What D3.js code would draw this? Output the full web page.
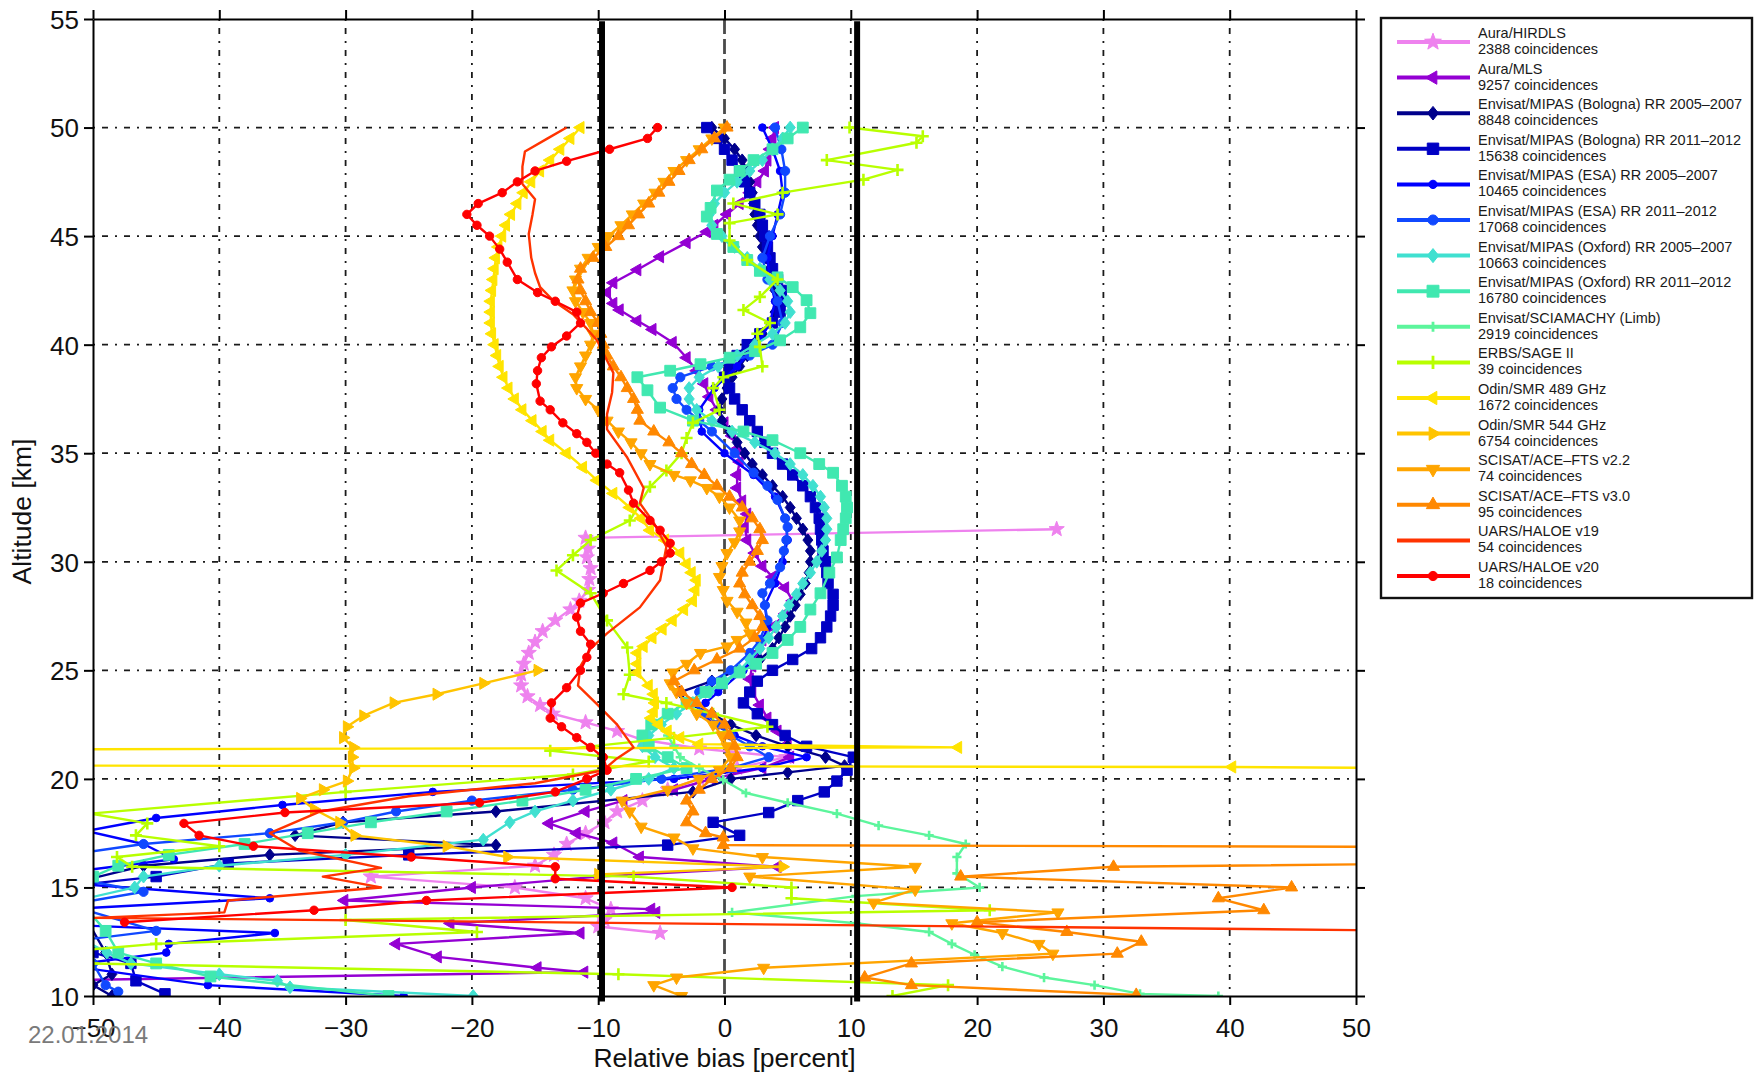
<!DOCTYPE html>
<html>
<head>
<meta charset="utf-8">
<script src="https://cdn.jsdelivr.net/npm/d3@7"></script>
<style>
  body { margin: 0; background: #fff; }
  svg { display: block; font-family: "Liberation Sans", Arial, Helvetica, sans-serif; }
</style>
</head>
<body>
<svg id="chart" width="1760" height="1073"></svg>
<script>
// Water vapour relative bias profiles: each point is [altitude km, relative bias %]
const hirdls = [[31.5,26.3],[31.1,-11.0],[30.6,-10.8],[30.2,-10.9],[29.7,-10.6],[29.2,-10.7],[28.7,-10.8],[28.2,-11.5],[27.8,-12.2],[27.3,-13.4],[26.8,-14.4],[26.3,-15.0],[25.8,-15.5],[25.3,-15.9],[24.8,-16.1],[24.3,-16.1],[23.8,-15.6],[23.4,-14.6],[23.0,-13.6],[22.6,-11.0],[22.2,-8.5],[21.8,-6.5],[21.4,-2.0],[21.0,4.9],[20.5,1.0],[20.0,-2.0],[19.5,-4.5],[19.0,-6.5],[18.5,-8.5],[18.0,-9.5],[17.5,-11.0],[17.0,-12.5],[16.5,-13.5],[16.0,-15.0],[15.5,-28.0],[15.0,-16.6],[14.5,-11.0],[14.0,-9.0],[13.5,-9.5],[13.2,-10.0],[12.9,-5.1]];

const mls = [[50,4.0],[49.5,3.8],[49,3.6],[48.5,3.4],[48,3.2],[47.5,2.6],[47,2.0],[46.5,1.2],[46,0.2],[45.5,-0.8],[45.2,-1.4],[44.7,-3.0],[44.05,-5.1],[43.45,-6.9],[42.85,-8.8],[42.4,-9.3],[41.9,-8.8],[41.6,-8.3],[41.1,-6.9],[40.7,-5.7],[40.1,-4.1],[39.4,-3.0],[38.8,-2.2],[38.2,-1.6],[37.6,-1.2],[37.0,-0.6],[36.4,0.0],[35.8,0.6],[35.2,1.0],[34.6,1.2],[34.0,1.0],[33.4,1.0],[32.8,1.4],[32.2,1.8],[31.6,1.6],[31.0,1.8],[30.4,2.4],[29.8,3.0],[29.3,3.8],[28.8,4.8],[28.2,5.4],[27.6,4.8],[27.0,3.8],[26.4,3.0],[25.8,2.6],[25.2,2.2],[24.6,2.0],[24.0,2.2],[23.4,2.8],[22.8,3.4],[22.2,4.2],[21.6,5.0],[21.0,5.2],[20.5,3.0],[20.0,-1.0],[19.5,-4.0],[19.0,-8.0],[18.5,-11.0],[17.95,-13.9],[17.5,-11.7],[17.05,-8.8],[16.4,-6.7],[15.95,4.2],[15.5,-10.0],[15.0,-20.0],[14.4,-30.1],[14.0,-5.8],[13.85,-5.4],[13.35,-21.7],[12.9,-11.4],[12.4,-26.0],[11.8,-22.7],[11.3,-14.8],[11.1,-11.1],[10.7,-55]];

const mipasBologna0507 = [[50,-1.0],[49.5,0.0],[49,0.8],[48.5,1.4],[48,1.8],[47.5,2.0],[47,2.2],[46.5,2.3],[46,2.4],[45.5,2.6],[45,2.8],[44.5,3.0],[44,3.3],[43.5,3.6],[43,3.8],[42.5,4.0],[42,4.1],[41.5,4.0],[41,3.6],[40.5,3.0],[40,2.4],[39.5,1.8],[39,1.2],[38.5,0.6],[38,0.2],[37.5,-0.2],[37,-0.4],[36.5,-0.2],[36,0.4],[35.5,1.0],[35,1.6],[34.5,2.2],[34,3.0],[33.5,3.8],[33,4.6],[32.5,5.2],[32,5.7],[31.5,6.2],[31,6.6],[30.5,6.8],[30,6.8],[29.5,6.7],[29,6.4],[28.5,6.0],[28,5.6],[27.5,5.2],[27,4.8],[26.5,4.3],[26,3.8],[25.5,2.8],[25,1.0],[24.5,-1.0],[24,-3.5],[23.5,-3.0],[23,-1.0],[22.5,0.5],[22,2.5],[21.5,5.0],[21,8.0],[20.6,9.5],[20.3,5.0],[20,0.5],[19.4,-2.5],[18.5,-18.1],[18.0,-30.2],[17.4,-34.0],[16.95,-18.1],[16.5,-36.0],[16.0,-46.0],[15.0,-53.0],[14.0,-51.0],[12.0,-49.0],[11.0,-48.5],[10.5,-50.0],[10.0,-48.5]];

const mipasBologna1112 = [[50,-1.4],[49.5,-0.6],[49,0.0],[48.5,0.6],[48,1.2],[47.5,1.6],[47,2.0],[46.5,2.4],[46,2.8],[45.5,3.0],[45,3.2],[44.5,3.4],[44,3.6],[43.5,3.8],[43,4.2],[42.5,4.5],[42,4.6],[41.5,4.4],[41,3.8],[40.5,2.8],[40,1.8],[39.5,1.0],[39,0.4],[38.5,0.0],[38,0.4],[37.5,0.8],[37,1.4],[36.5,2.0],[36,2.6],[35.5,3.2],[35,3.8],[34.5,4.6],[34,5.4],[33.5,6.2],[33,6.8],[32.5,7.2],[32,7.5],[31.5,7.6],[31,7.7],[30.5,7.8],[30,8.0],[29.5,8.1],[29,8.2],[28.5,8.6],[28,8.6],[27.5,8.4],[27,8.1],[26.5,7.6],[26,6.9],[25.5,5.4],[25,3.8],[24.5,2.6],[24,2.0],[23.5,1.5],[23,2.6],[22.5,3.8],[22,4.8],[21.5,6.5],[21,10.2],[20.4,9.7],[19.9,8.9],[19.4,7.9],[19.0,5.8],[18.45,3.5],[18.0,-0.9],[17.4,1.2],[16.95,-4.5],[16.5,-25.0],[16.1,-39.3],[15.5,-45.0],[15.0,-53.0],[13.5,-52.0],[12.0,-50.0],[11.5,-47.0],[10.7,-46.6],[10.1,-44.3]];

const mipasEsa0507 = [[50,3.0],[49,3.8],[48,4.4],[47,4.6],[46,4.2],[45,3.8],[44,3.4],[43,3.6],[42,4.0],[41,3.6],[40,2.6],[39,1.0],[38,-0.8],[37,-2.0],[36,-1.8],[35,0.0],[34,2.3],[33,4.0],[32,4.8],[31,5.0],[30,4.6],[29,4.0],[28,3.2],[27,3.4],[26,2.8],[25,1.5],[24,-0.5],[23.5,-1.5],[23,-1.8],[22.5,-0.8],[22,0.8],[21.5,3.0],[21,6.5],[20.5,3.0],[20.0,-4.0],[19.4,-23.1],[18.8,-35.0],[18.2,-45.0],[17.6,-50.5],[17.0,-46.0],[16.3,-43.6],[15.8,-50.5],[15.2,-52.0],[14.5,-36.0],[14.0,-52.0],[13.3,-53.0],[12.9,-35.6],[12.4,-44.0],[12.0,-44.2],[11.4,-52.0],[10.5,-40.9],[10.0,-25.4]];

const mipasEsa1112 = [[50,4.0],[49,4.5],[48,4.8],[47,4.8],[46,4.4],[45,3.6],[44,3.0],[43,3.4],[42,4.2],[41,4.6],[40,3.8],[39.5,2.0],[39,-1.0],[38.5,-3.5],[38,-4.1],[37.5,-3.8],[37,-3.0],[36.5,-2.0],[36,-1.0],[35,0.8],[34.1,2.3],[33.5,3.4],[32.85,4.2],[32,4.8],[31.6,5.0],[31,4.9],[30.5,4.7],[29.75,4.4],[29,3.6],[28.55,3.0],[28,3.2],[27.3,3.4],[26.4,2.8],[25.8,2.0],[25,0.5],[24.5,-1.0],[24,-2.0],[23.5,-2.5],[23,-1.5],[22.5,-0.5],[22,0.5],[21.5,2.0],[21,3.5],[20.5,0.5],[20,-5.0],[19.5,-12.0],[19,-20.0],[18.5,-26.0],[18.0,-30.2],[17.5,-36.0],[17.0,-46.0],[16.5,-52.0],[15.5,-52.0],[14.8,-46.0],[14.2,-52.0],[13.0,-45.0],[12.5,-52.0],[11.5,-50.0],[10.5,-49.0],[10.2,-48.0]];

const mipasOxford0507 = [[50,5.2],[49.5,4.6],[49,3.8],[48.5,3.0],[48,2.0],[47.5,1.0],[47,0.0],[46.5,-0.8],[46,-1.2],[45.5,-1.0],[45,-0.2],[44.5,0.8],[44,1.8],[43.5,2.8],[43,3.6],[42.5,4.4],[42,5.0],[41.5,5.2],[41,4.8],[40.5,3.8],[40,2.4],[39.5,1.0],[39,-0.5],[38.5,-2.0],[38,-2.8],[37.5,-2.8],[37,-2.2],[36.5,-1.0],[36,0.6],[35.5,2.4],[35,4.0],[34.5,5.2],[34,6.2],[33.5,7.0],[33,7.6],[32.5,7.9],[32,8.1],[31.5,8.1],[31,8.0],[30.5,7.7],[30,7.3],[29.5,6.8],[29,6.2],[28.5,5.7],[28,5.1],[27.5,4.6],[27,4.1],[26.5,3.5],[26,2.8],[25.5,2.0],[25,1.2],[24.5,0.0],[24,-1.2],[23.5,-2.5],[23,-3.8],[22.5,-5.0],[22,-6.0],[21.5,-6.5],[21,-5.5],[20.5,-4.0],[20,-6.0],[19.5,-9.0],[19,-12.0],[18.5,-15.0],[18,-17.0],[17.2,-19.1],[16.5,-30.0],[16,-40.0],[15.5,-46.0],[15.0,-46.7],[14.5,-50.5],[13.5,-51.0],[12.5,-50.5],[12.0,-48.9],[11.5,-47.0],[11.0,-40.0],[10.7,-35.4],[10.4,-34.4],[10.0,-19.9]];

const mipasOxford1112 = [[50,6.2],[49.5,5.0],[49,3.8],[48.5,2.3],[48,1.2],[47.6,0.4],[47.1,-0.6],[46.3,-1.1],[45.9,-1.4],[45.1,-0.6],[44.5,0.7],[43.9,1.8],[43.4,2.8],[43.1,4.2],[42.65,5.4],[42.05,6.5],[41.45,6.8],[40.8,6.0],[40.2,4.4],[39.7,2.4],[39.4,0.4],[39.1,-1.9],[38.8,-4.3],[38.5,-6.9],[37.9,-6.1],[37.1,-5.1],[36.5,-2.5],[36.0,1.5],[35.6,3.8],[35,6.0],[34.5,7.5],[34.1,8.6],[33.5,9.3],[33,9.6],[32.5,9.7],[32,9.6],[31.5,9.4],[31,9.2],[30.2,8.9],[29.5,8.3],[28.55,7.6],[27.8,6.8],[27.0,6.0],[26.4,5.0],[25.8,3.8],[25.3,2.5],[24.9,1.2],[24.4,-0.2],[24,-1.5],[23.5,-3.0],[23,-4.5],[22.5,-5.8],[22,-6.5],[21.5,-6.0],[21,-4.5],[20.5,-3.0],[20,-7.0],[19.5,-11.0],[19,-16.0],[18.5,-22.0],[18,-28.0],[17.5,-33.0],[17,-38.0],[16.5,-44.0],[16,-48.0],[15.5,-50.0],[15,-51.0],[14,-50.5],[13,-49.0],[12,-48.0],[11.5,-45.0],[10.9,-40.7],[10.0,-26.6]];

const sciamachy = [[22.0,-4.5],[21.5,-4.0],[21.0,-3.5],[20.5,-2.0],[19.95,-0.1],[19.35,1.7],[18.9,5.0],[18.4,8.9],[17.85,12.2],[17.4,16.2],[17.0,19.1],[16.4,18.4],[15.65,18.4],[15.0,20.2],[14.6,10.4],[13.85,0.6],[13.35,10.4],[12.95,16.2],[12.4,18.0],[11.9,19.8],[11.35,22.0],[10.85,25.3],[10.5,29.3],[10.1,32.9],[10.0,39.1]];

const sage2 = [[50.0,9.9],[49.6,15.7],[49.3,15.2],[48.5,8.1],[48.05,13.7],[47.6,11.0],[47.0,4.6],[46.5,0.7],[46.0,4.2],[45.6,0.4],[44.8,0.4],[43.9,1.8],[43.0,4.2],[42.2,2.8],[41.6,1.5],[41.0,3.6],[40.5,2.6],[39.9,2.8],[39.0,3.0],[38.5,-0.1],[38.0,-0.9],[37.0,-0.4],[36.4,-2.5],[35.7,-3.0],[35.0,-3.4],[34.2,-4.6],[33.45,-5.9],[31.9,-7.5],[31.0,-10.6],[30.3,-12.0],[29.6,-13.3],[28.55,-10.6],[27.3,-9.3],[26.05,-7.7],[24.8,-7.5],[23.9,-8.0],[23.5,-4.6],[23.0,-0.9],[22.4,3.4],[21.9,-4.0],[21.3,-13.8],[20.8,-6.0],[20.2,-12.0],[19.4,-30.0],[18.4,-50.2],[17.95,-45.7],[17.4,-46.6],[16.9,-40.0],[16.4,-48.1],[15.95,-46.9],[15.5,-7.2],[15.0,5.3],[14.5,5.3],[13.95,21.0],[13.5,-30.0],[12.95,-19.6],[12.4,-45.0],[11.9,-55.0],[11.5,-50.0],[11.0,-8.4],[10.5,17.7],[10.0,13.3]];

const smr489 = [[50,-11.4],[49.5,-12.2],[49,-13.0],[48.5,-13.8],[48,-14.6],[47.5,-15.3],[47,-15.9],[46.5,-16.4],[46,-16.9],[45.5,-17.3],[45,-17.6],[44.5,-17.9],[44,-18.1],[43.5,-18.2],[43,-18.3],[42.5,-18.4],[42,-18.5],[41.5,-18.5],[41,-18.5],[40.5,-18.4],[40,-18.2],[39.5,-18.0],[39,-17.8],[38.5,-17.5],[38,-17.1],[37.5,-16.6],[37,-16.0],[36.5,-15.2],[36,-14.4],[35.6,-13.8],[35.0,-12.5],[34.35,-11.2],[33.75,-10.1],[33.15,-8.8],[32.5,-7.5],[32.0,-6.6],[31.45,-5.9],[31.0,-4.7],[30.4,-3.5],[29.9,-3.0],[29.5,-2.6],[29.15,-2.2],[28.7,-2.3],[28.2,-2.5],[27.8,-3.2],[27.3,-4.1],[26.9,-4.9],[26.5,-5.7],[26.1,-6.4],[25.8,-6.9],[25.3,-6.9],[24.9,-6.9],[24.3,-6.0],[23.9,-5.6],[23.5,-5.5],[23.1,-5.6],[22.8,-5.8],[22.5,-5.2],[22.2,-4.5],[21.9,-3.5],[21.6,-2.0],[21.45,18.5],[21.35,-65],[20.62,-65],[20.55,40.2],[20.45,65]];

const smr544 = [[25.0,-14.8],[24.4,-19.1],[23.9,-22.8],[23.5,-26.2],[22.9,-28.6],[22.4,-29.9],[21.9,-30.2],[21.45,-29.4],[21.0,-29.5],[20.5,-29.4],[19.9,-29.9],[19.5,-31.8],[19.1,-33.6],[18.6,-32.5],[18.0,-30.5],[17.4,-29.3],[16.9,-22.0],[16.4,-17.2],[15.95,4.6],[15.6,-10.0]];

const ace22 = [[50,0.0],[49.5,-1.0],[49,-2.0],[48.5,-3.0],[48,-4.0],[47.5,-4.8],[47,-5.5],[46.5,-6.4],[46,-7.3],[45.5,-8.2],[45,-9.2],[44.5,-10.0],[44,-10.8],[43.5,-11.4],[43,-11.8],[42.5,-12.0],[42,-11.8],[41.5,-11.2],[41,-10.6],[40.5,-10.4],[40,-10.6],[39.5,-11.0],[39,-11.4],[38.5,-11.8],[38,-11.7],[37.5,-11.0],[37,-10.0],[36.5,-9.3],[36,-8.4],[35.5,-7.4],[35,-6.6],[34.5,-5.9],[34,-4.0],[33.75,-2.7],[33.4,-1.4],[33,-0.4],[32.5,0.4],[31.9,1.2],[31.4,1.2],[30.9,0.8],[30.4,0.2],[29.8,-0.2],[29.3,-0.4],[28.7,-0.1],[28.2,0.2],[27.7,1.0],[27.2,1.7],[26.7,2.0],[26.4,1.0],[26.1,0.2],[25.8,-1.9],[25.3,-3.0],[24.9,-4.1],[24.4,-4.3],[24,-3.8],[23.5,-3.0],[23,-2.2],[22.5,-0.9],[22,-0.2],[21.5,0.2],[21,0.5],[20.4,-0.4],[20.0,-2.0],[19.5,-4.5],[19.0,-8.1],[18.5,-7.5],[17.8,-6.6],[17.3,-4.0],[16.8,-2.5],[16.4,3.0],[15.95,15.1],[15.5,2.0],[14.9,15.1],[14.3,11.8],[13.85,26.4],[13.35,18.0],[12.9,22.0],[12.4,24.9],[11.95,26.0],[11.3,3.1],[10.85,-3.8],[10.5,-5.6],[10.0,-3.4]];

const ace30 = [[50,0.2],[49.5,-0.8],[49,-1.8],[48.5,-2.8],[48,-3.6],[47.5,-4.4],[47,-5.2],[46.5,-6.0],[46,-6.8],[45.5,-7.6],[45,-8.4],[44.5,-9.4],[44,-10.4],[43.5,-11.4],[43,-11.6],[42.5,-11.4],[42,-11.0],[41.5,-10.6],[41,-10.0],[40.5,-9.8],[40,-9.6],[39.5,-9.3],[39,-8.8],[38.5,-8.2],[38,-7.7],[37.5,-7.2],[37,-6.9],[36.5,-6.7],[36,-5.6],[35.5,-4.4],[35,-3.4],[34.5,-2.6],[34,-1.6],[33.5,-0.6],[33,0.4],[32.5,1.4],[32,2.2],[31.5,2.8],[31,3.0],[30.5,2.6],[30,2.0],[29.5,1.4],[29,1.2],[28.5,1.6],[28,2.2],[27.5,2.8],[27,3.0],[26.5,2.4],[26,1.2],[25.5,-0.6],[25,-2.4],[24.5,-4.0],[24,-3.4],[23.5,-2.2],[23,-1.0],[22.5,0.0],[22,0.4],[21.5,0.8],[21,1.0],[20.5,0.5],[20.0,-1.0],[19.5,-2.0],[19.0,-3.0],[18.5,-2.5],[18.0,-3.0],[17.5,-1.5],[17.3,-0.1],[16.95,-0.1],[16.85,65],[16.15,65],[15.95,30.8],[15.5,18.7],[15.0,44.9],[14.5,39.1],[13.95,42.7],[13.4,20.0],[12.95,27.1],[12.5,33.0],[11.95,31.1],[11.5,14.8],[10.85,11.1],[10.5,14.8],[10.05,32.6]];

const haloe19 = [[50,-12.5],[49.5,-14.0],[48.9,-15.8],[48.2,-16.0],[47.4,-16.0],[46.7,-15.0],[46.0,-15.2],[45.1,-15.5],[44.0,-15.3],[43.3,-15.0],[42.65,-14.6],[42.0,-13.5],[41.4,-12.0],[40.8,-11.0],[40.2,-10.1],[39.5,-9.5],[38.7,-8.8],[37.8,-8.9],[36.8,-9.3],[36.1,-9.3],[34.8,-7.7],[33.4,-6.4],[32.7,-6.7],[31.8,-5.6],[30.7,-4.6],[29.15,-5.1],[27.9,-6.7],[26.7,-9.3],[26.0,-10.6],[25.2,-11.4],[24.3,-11.6],[23.5,-10.2],[22.5,-8.5],[21.45,-7.2],[20.9,-8.6],[20.4,-9.6],[19.8,-15.0],[19.2,-25.0],[18.5,-32.0],[17.5,-36.0],[16.7,-33.7],[15.9,-27.2],[15.5,-31.8],[15.0,-27.2],[14.4,-39.3],[13.85,-39.6],[13.6,-49.9],[13.0,56]];

const haloe20 = [[50,-5.3],[49.5,-6.1],[49,-9.1],[48.45,-12.5],[48,-15.0],[47.5,-16.4],[47,-17.6],[46.5,-19.5],[46,-20.4],[45.5,-19.6],[45,-18.6],[44.4,-17.8],[43.8,-17.2],[43,-16.4],[42.4,-14.8],[42,-13.4],[41.5,-11.7],[41,-11.4],[40.4,-12.5],[39.9,-13.7],[39.4,-14.5],[38.8,-14.8],[38.2,-14.9],[37.4,-14.6],[37,-13.8],[36.4,-12.8],[35.9,-11.7],[35.5,-10.9],[35,-10.2],[34.5,-9.3],[34.1,-8.3],[33.3,-7.6],[32.7,-7.2],[31.9,-5.9],[31.45,-5.1],[30.85,-4.3],[30.4,-4.3],[30.0,-5.0],[29.6,-5.9],[29.0,-8.0],[28.55,-9.6],[28.1,-11.4],[27.45,-11.7],[26.8,-11.4],[26.2,-10.6],[25.6,-10.9],[25,-11.4],[24.2,-12.5],[23.5,-13.7],[22.8,-13.8],[22.4,-12.9],[21.9,-11.7],[21.45,-10.6],[21,-9.6],[20.4,-9.3],[20,-10.9],[19.4,-13.4],[18.9,-19.4],[18.45,-34.8],[17.95,-42.8],[17.4,-41.6],[16.9,-37.3],[16.4,-24.8],[15.95,-13.4],[15.4,-13.4],[15.0,0.6],[14.4,-23.6],[13.95,-32.5],[13.4,-47.5]];

const instruments = ["Aura/HIRDLS","Aura/MLS","Envisat/MIPAS (Bologna) RR 2005\u20132007","Envisat/MIPAS (Bologna) RR 2011\u20132012","Envisat/MIPAS (ESA) RR 2005\u20132007","Envisat/MIPAS (ESA) RR 2011\u20132012","Envisat/MIPAS (Oxford) RR 2005\u20132007","Envisat/MIPAS (Oxford) RR 2011\u20132012","Envisat/SCIAMACHY (Limb)","ERBS/SAGE II","Odin/SMR 489 GHz","Odin/SMR 544 GHz","SCISAT/ACE\u2013FTS v2.2","SCISAT/ACE\u2013FTS v3.0","UARS/HALOE v19","UARS/HALOE v20"];
const coincidences = [2388, 9257, 8848, 15638, 10465, 17068, 10663, 16780, 2919, 39, 1672, 6754, 74, 95, 54, 18];
const profiles = [hirdls, mls, mipasBologna0507, mipasBologna1112, mipasEsa0507, mipasEsa1112, mipasOxford0507, mipasOxford1112, sciamachy, sage2, smr489, smr544, ace22, ace30, haloe19, haloe20];

const xTicks = [-50, -40, -30, -20, -10, 0, 10, 20, 30, 40, 50];
const yTicks = [10, 15, 20, 25, 30, 35, 40, 45, 50, 55];
const biasLimits = [-9.7, 10.5];   // thick reference bars
const stampText = "22.01.2014";

// ---- look of each profile (colour, marker, marker radius) ----
const looks = [
  { color: "#EE82EE", marker: "star",    r: 8.0 },
  { color: "#9400D3", marker: "triL",    r: 7.0 },
  { color: "#00008B", marker: "diamond", r: 6.2 },
  { color: "#0000C4", marker: "square",  r: 5.2 },
  { color: "#0000FF", marker: "dot",     r: 3.8 },
  { color: "#1048FF", marker: "circle",  r: 4.6 },
  { color: "#40E0D0", marker: "diamond", r: 6.4 },
  { color: "#40E8B0", marker: "square",  r: 5.4 },
  { color: "#5CF59C", marker: "plus",    r: 4.6 },
  { color: "#B8FF00", marker: "plus",    r: 6.0 },
  { color: "#FFE400", marker: "triL",    r: 7.0 },
  { color: "#FFC400", marker: "triR",    r: 7.0 },
  { color: "#FFA500", marker: "triD",    r: 7.0 },
  { color: "#FF8800", marker: "triU",    r: 7.0 },
  { color: "#FF3300", marker: null,      r: 0 },
  { color: "#FF0000", marker: "dot",     r: 4.2 }
];

function markerPath(type, r) {
  const tri = (ang) => {
    const pts = [0, 120, 240].map(a => {
      const t = (a + ang) * Math.PI / 180;
      return [r * Math.sin(t), -r * Math.cos(t)];
    });
    return "M" + pts.map(p => p[0].toFixed(2) + "," + p[1].toFixed(2)).join("L") + "Z";
  };
  switch (type) {
    case "triU": return tri(0);
    case "triR": return tri(90);
    case "triD": return tri(180);
    case "triL": return tri(270);
    case "square": return `M${-r},${-r}H${r}V${r}H${-r}Z`;
    case "diamond": return `M0,${-r}L${r * 0.8},0L0,${r}L${-r * 0.8},0Z`;
    case "circle": return d3.symbol(d3.symbolCircle, Math.PI * r * r)();
    case "dot": return d3.symbol(d3.symbolCircle, Math.PI * r * r)();
    case "plus": return `M${-r},0H${r}M0,${-r}V${r}`;
    case "star": {
      let s = "";
      for (let i = 0; i < 10; i++) {
        const rr = i % 2 ? r * 0.42 : r;
        const t = i * Math.PI / 5;
        s += (i ? "L" : "M") + (rr * Math.sin(t)).toFixed(2) + "," + (-rr * Math.cos(t)).toFixed(2);
      }
      return s + "Z";
    }
  }
  return null;
}

// ---- layout ----
const svg = d3.select("#chart");
const plot = { left: 93, right: 1356, top: 19, bottom: 996 };
const x = d3.scaleLinear().domain([-50, 50]).range([plot.left, plot.right]);
const y = d3.scaleLinear().domain([10, 55]).range([plot.bottom, plot.top]);

svg.append("rect").attr("width", 1760).attr("height", 1073).attr("fill", "#fff");

svg.append("clipPath").attr("id", "plotClip")
  .append("rect")
  .attr("x", plot.left).attr("y", plot.top)
  .attr("width", plot.right - plot.left).attr("height", plot.bottom - plot.top);

// grid
const grid = svg.append("g").attr("stroke", "#1a1a1a").attr("stroke-width", 1.8)
  .attr("stroke-dasharray", "2,7,6,7").attr("fill", "none");
grid.selectAll("line.gx").data(xTicks.filter(d => d > -50 && d < 50 && d !== 0)).join("line")
  .attr("x1", d => x(d)).attr("x2", d => x(d)).attr("y1", plot.top).attr("y2", plot.bottom);
grid.selectAll("line.gy").data(yTicks.filter(d => d > 10 && d < 55)).join("line")
  .attr("x1", plot.left).attr("x2", plot.right).attr("y1", d => y(d)).attr("y2", d => y(d));

// zero line
svg.append("line")
  .attr("x1", x(0)).attr("x2", x(0)).attr("y1", plot.top).attr("y2", plot.bottom)
  .attr("stroke", "#4a4a4a").attr("stroke-width", 2.8).attr("stroke-dasharray", "15,5");

// profiles
const lineGen = d3.line().x(d => x(d[1])).y(d => y(d[0]));
const data = svg.append("g").attr("clip-path", "url(#plotClip)");
profiles.forEach((pts, i) => {
  const lk = looks[i];
  const g = data.append("g");
  g.append("path").datum(pts).attr("d", lineGen)
    .attr("fill", "none").attr("stroke", lk.color).attr("stroke-width", 2.4)
    .attr("stroke-linejoin", "round");
  if (lk.marker) {
    const pathStr = markerPath(lk.marker, lk.r);
    const stroked = lk.marker === "plus";
    g.selectAll("path.mk").data(pts).join("path")
      .attr("class", "mk")
      .attr("transform", d => `translate(${x(d[1])},${y(d[0])})`)
      .attr("d", pathStr)
      .attr("fill", stroked ? "none" : lk.color)
      .attr("stroke", lk.color)
      .attr("stroke-width", stroked ? 2.6 : 1);
  }
});

// thick reference bars
svg.append("g").selectAll("line").data(biasLimits).join("line")
  .attr("x1", d => x(d)).attr("x2", d => x(d))
  .attr("y1", y(54.9)).attr("y2", y(9.75))
  .attr("stroke", "#000").attr("stroke-width", 6);

// axes
const fmt = d => d < 0 ? "\u2212" + Math.abs(d) : String(d);
const axB = svg.append("g").attr("transform", `translate(0,${plot.bottom})`)
  .call(d3.axisBottom(x).tickValues(xTicks).tickSize(9).tickSizeOuter(0).tickFormat(fmt));
const axT = svg.append("g").attr("transform", `translate(0,${plot.top})`)
  .call(d3.axisTop(x).tickValues(xTicks).tickSize(9).tickSizeOuter(0).tickFormat(""));
const axL = svg.append("g").attr("transform", `translate(${plot.left},0)`)
  .call(d3.axisLeft(y).tickValues(yTicks).tickSize(9).tickSizeOuter(0).tickFormat(fmt));
const axR = svg.append("g").attr("transform", `translate(${plot.right},0)`)
  .call(d3.axisRight(y).tickValues(yTicks).tickSize(9).tickSizeOuter(0).tickFormat(""));
[axB, axT, axL, axR].forEach(a => {
  a.select(".domain").attr("stroke", "#000").attr("stroke-width", 2);
  a.selectAll(".tick line").attr("stroke", "#000").attr("stroke-width", 2);
  a.selectAll("text").attr("font-family", '"Liberation Sans", Arial, sans-serif')
    .attr("font-size", 26).attr("fill", "#111");
});
axB.selectAll("text").attr("y", 41).attr("dy", null);
axL.selectAll("text").attr("x", -14).attr("dy", "0.36em");

// axis titles
svg.append("text").attr("x", x(0)).attr("y", 1067).attr("text-anchor", "middle")
  .attr("font-size", 26.5).attr("fill", "#111").text("Relative bias [percent]");
svg.append("text").attr("transform", `translate(31,${(plot.top + plot.bottom) / 2 + 4}) rotate(-90)`)
  .attr("text-anchor", "middle").attr("font-size", 26.5).attr("fill", "#111").text("Altitude [km]");

// date stamp
svg.append("text").attr("x", 28).attr("y", 1043).attr("font-size", 24)
  .attr("fill", "#7a7a7a").text(stampText);

// legend
const leg = svg.append("g");
leg.append("rect").attr("x", 1381).attr("y", 18).attr("width", 371).attr("height", 580)
  .attr("fill", "#fff").attr("stroke", "#111").attr("stroke-width", 2.4);
instruments.forEach((name, i) => {
  const ly = 42 + i * 35.6;
  const lk = looks[i];
  const row = leg.append("g");
  row.append("line").attr("x1", 1397).attr("x2", 1470).attr("y1", ly).attr("y2", ly)
    .attr("stroke", lk.color).attr("stroke-width", 4);
  if (lk.marker) {
    const stroked = lk.marker === "plus";
    row.append("path").attr("transform", `translate(1433,${ly})`)
      .attr("d", markerPath(lk.marker, lk.r * 1.1))
      .attr("fill", stroked ? "none" : lk.color).attr("stroke", lk.color)
      .attr("stroke-width", stroked ? 2.8 : 1);
  }
  row.append("text").attr("x", 1478).attr("y", ly - 4).attr("font-size", 14.5)
    .attr("fill", "#1a1a1a").text(name);
  row.append("text").attr("x", 1478).attr("y", ly + 12).attr("font-size", 14.5)
    .attr("fill", "#1a1a1a").text(coincidences[i] + " coincidences");
});
</script>
</body>
</html>
